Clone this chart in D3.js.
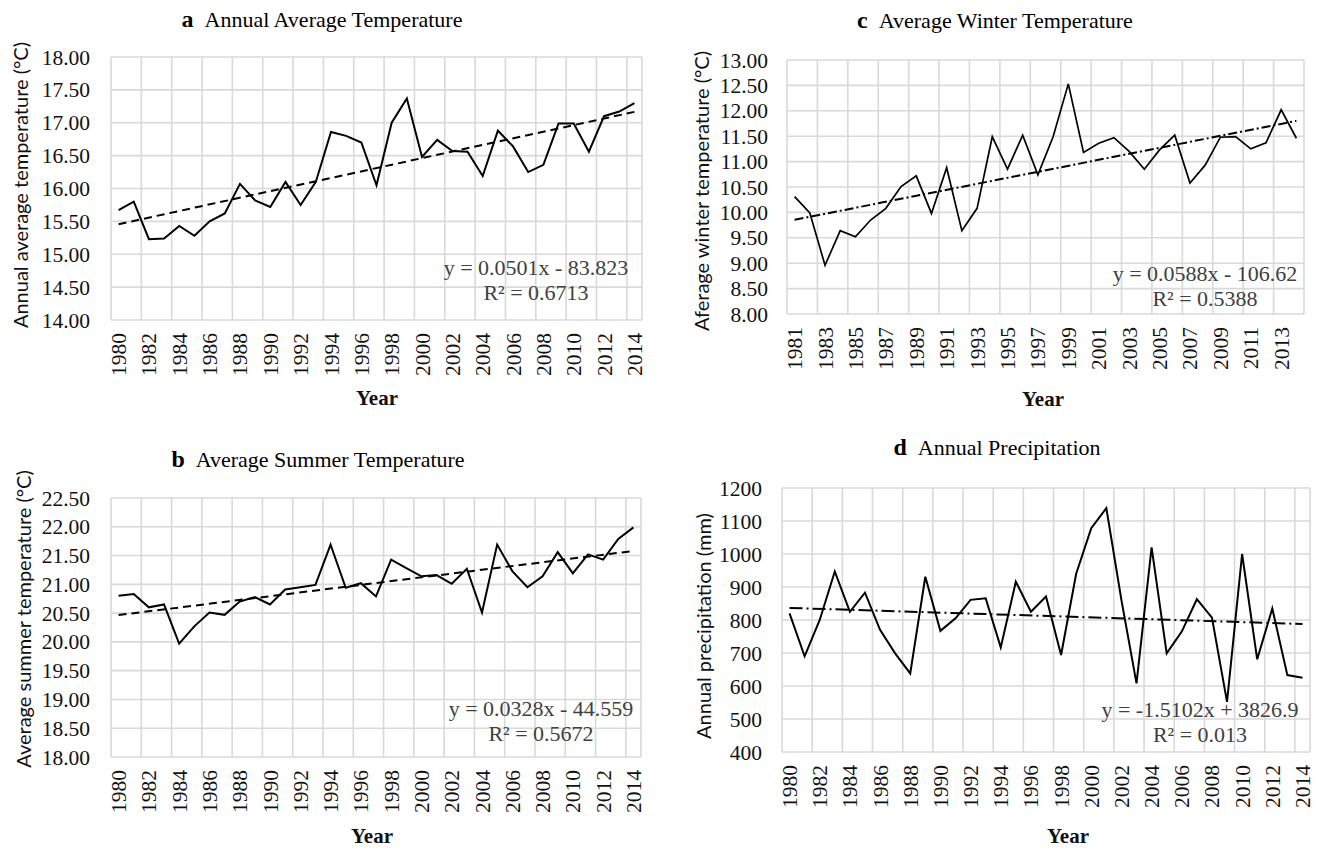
<!DOCTYPE html>
<html><head><meta charset="utf-8">
<script src="https://cdn.jsdelivr.net/npm/d3@7/dist/d3.min.js"></script>
<style>body{margin:0;background:#fff} svg{display:block}</style>
</head><body><svg id="chart" width="1320" height="850"></svg>
<script>
// ---------- DATA ----------
const years80 = [1980,1981,1982,1983,1984,1985,1986,1987,1988,1989,1990,1991,1992,1993,1994,1995,1996,1997,1998,1999,2000,2001,2002,2003,2004,2005,2006,2007,2008,2009,2010,2011,2012,2013,2014];
const years81 = [1981,1982,1983,1984,1985,1986,1987,1988,1989,1990,1991,1992,1993,1994,1995,1996,1997,1998,1999,2000,2001,2002,2003,2004,2005,2006,2007,2008,2009,2010,2011,2012,2013,2014];

const annualTemp = [15.67,15.80,15.23,15.24,15.43,15.28,15.50,15.62,16.07,15.82,15.72,16.10,15.75,16.10,16.86,16.80,16.70,16.05,17.00,17.37,16.48,16.74,16.57,16.56,16.19,16.88,16.64,16.25,16.36,16.99,16.99,16.56,17.10,17.17,17.30];
const summerTemp = [20.80,20.83,20.60,20.65,19.97,20.27,20.51,20.47,20.70,20.78,20.65,20.91,20.95,20.99,21.69,20.94,21.02,20.79,21.43,21.28,21.14,21.16,21.01,21.27,20.51,21.69,21.23,20.95,21.14,21.56,21.19,21.52,21.43,21.79,21.99];
const winterTemp = [10.31,9.99,8.96,9.64,9.52,9.85,10.08,10.51,10.72,9.98,10.88,9.64,10.08,11.49,10.85,11.52,10.74,11.49,12.53,11.18,11.36,11.47,11.20,10.85,11.23,11.52,10.58,10.93,11.48,11.49,11.25,11.37,12.02,11.46];
const precip = [820,690,800,947,825,883,770,699,638,931,767,805,861,866,717,916,825,871,694,940,1078,1139,860,608,1020,699,765,863,807,552,1000,681,835,633,625];

const ticksA = [14,14.5,15,15.5,16,16.5,17,17.5,18];
const ticksB = [18,18.5,19,19.5,20,20.5,21,21.5,22,22.5];
const ticksC = [8,8.5,9,9.5,10,10.5,11,11.5,12,12.5,13];
const ticksD = [400,500,600,700,800,900,1000,1100,1200];

const eqA = ["y = 0.0501x - 83.823", "R\u00B2 = 0.6713"];
const eqB = ["y = 0.0328x - 44.559", "R\u00B2 = 0.5672"];
const eqC = ["y = 0.0588x - 106.62", "R\u00B2 = 0.5388"];
const eqD = ["y = -1.5102x + 3826.9", "R\u00B2 = 0.013"];

// ---------- LAYOUT ----------
const SERIF = "'Liberation Serif','Times New Roman',serif";
const SANS = "Lato,'Liberation Sans',Arial,sans-serif";

const panels = [
  {letter:"a", title:"Annual Average Temperature", titleX:322, titleY:27, yTitle:"Annual average temperature (\u00B0C)",
   years:years80, values:annualTemp, ticks:ticksA, fmt:d3.format(".2f"),
   L:111,R:642,T:57,B:320, tickX:90, yTitleX:28, yTitleY:185, xTitleX:377, xTitleY:405,
   eq:eqA, eqX:536, eqY:275, dash:"8,5", lineW:2},
  {letter:"b", title:"Average Summer Temperature", titleX:318, titleY:467, yTitle:"Average summer temperature (\u00B0C)",
   years:years80, values:summerTemp, ticks:ticksB, fmt:d3.format(".2f"),
   L:111,R:641,T:498,B:757, tickX:90, yTitleX:31, yTitleY:619, xTitleX:372, xTitleY:843,
   eq:eqB, eqX:541, eqY:716, dash:"8,5", lineW:2},
  {letter:"c", title:"Average Winter Temperature", titleX:995, titleY:28, yTitle:"Aferage winter temperature (\u00B0C)",
   years:years81, values:winterTemp, ticks:ticksC, fmt:d3.format(".2f"),
   L:787,R:1304,T:60,B:314, tickX:768, yTitleX:709, yTitleY:191, xTitleX:1043, xTitleY:406,
   eq:eqC, eqX:1205, eqY:281, dash:"9,3,2,3", lineW:1.7},
  {letter:"d", title:"Annual Precipitation", titleX:997, titleY:455, yTitle:"Annual precipitation (mm)",
   years:years80, values:precip, ticks:ticksD, fmt:d3.format("d"),
   L:782,R:1310,T:488,B:752, tickX:762, yTitleX:711, yTitleY:626, xTitleX:1068, xTitleY:843,
   eq:eqD, eqX:1200, eqY:717, dash:"13,4,2,4", lineW:2}
];

const svg = d3.select("#chart");
const grid = "#d9d9d9";

function regression(xs, ys){
  const n = xs.length, mx = d3.mean(xs), my = d3.mean(ys);
  let sxy=0, sxx=0;
  for(let i=0;i<n;i++){ sxy += (xs[i]-mx)*(ys[i]-my); sxx += (xs[i]-mx)*(xs[i]-mx); }
  const b = sxy/sxx; return {b, a: my - b*mx};
}

panels.forEach(p => {
  const g = svg.append("g");
  const x = d3.scaleBand().domain(p.years).range([p.L, p.R]).padding(0);
  const y = d3.scaleLinear().domain([p.ticks[0], p.ticks[p.ticks.length-1]]).range([p.B, p.T]);
  const cx = d => x(d) + x.bandwidth()/2;

  g.append("g").selectAll("line").data(p.ticks).join("line")
    .attr("x1", p.L).attr("x2", p.R).attr("y1", d=>y(d)).attr("y2", d=>y(d))
    .attr("stroke", grid).attr("stroke-width", 1.6);
  const vb = p.years.filter((d,i)=> i%2===0).map(d=>x(d)).concat([p.R]);
  g.append("g").selectAll("line").data(vb).join("line")
    .attr("x1", d=>d).attr("x2", d=>d).attr("y1", p.T).attr("y2", p.B)
    .attr("stroke", grid).attr("stroke-width", 1.6);

  g.append("g").selectAll("text").data(p.ticks).join("text")
    .attr("x", p.tickX).attr("y", d=>y(d)).attr("dy","0.35em")
    .attr("text-anchor","end").attr("font-family", SERIF).attr("font-size", 21.5).attr("fill","#111")
    .text(p.fmt);

  const xl = p.years.filter((d,i)=> i%2===0);
  g.append("g").selectAll("text").data(xl).join("text")
    .attr("transform", d=>`translate(${cx(d)},${p.B+13}) rotate(-90)`)
    .attr("dy","0.35em").attr("text-anchor","end").attr("font-family", SERIF).attr("font-size", 21.5).attr("fill","#111")
    .text(d=>d);

  const line = d3.line().x((d,i)=>cx(p.years[i])).y(d=>y(d));
  g.append("path").datum(p.values).attr("d", line)
    .attr("fill","none").attr("stroke","#000").attr("stroke-width", p.lineW).attr("stroke-linejoin","miter");

  const idx = p.years.map((d,i)=>i+1);
  const r = regression(idx, p.values);
  g.append("line")
    .attr("x1", cx(p.years[0])).attr("y1", y(r.a + r.b*idx[0]))
    .attr("x2", cx(p.years[p.years.length-1])).attr("y2", y(r.a + r.b*idx[idx.length-1]))
    .attr("stroke","#000").attr("stroke-width",2).attr("stroke-dasharray", p.dash);

  g.append("text").attr("x", p.eqX).attr("y", p.eqY).attr("text-anchor","middle")
    .attr("font-family", SERIF).attr("font-size", 22).attr("fill","#404040").text(p.eq[0]);
  g.append("text").attr("x", p.eqX).attr("y", p.eqY+25).attr("text-anchor","middle")
    .attr("font-family", SERIF).attr("font-size", 22).attr("fill","#404040").text(p.eq[1]);

  const t = g.append("text").attr("x", p.titleX).attr("y", p.titleY).attr("text-anchor","middle")
    .attr("font-family", SERIF).attr("fill","#000");
  t.append("tspan").attr("font-weight","bold").attr("font-size", 24).text(p.letter);
  t.append("tspan").attr("font-size", 22).text("\u2002" + p.title);

  g.append("text").attr("transform", `translate(${p.yTitleX},${p.yTitleY}) rotate(-90)`)
    .attr("text-anchor","middle").attr("font-family", SANS).attr("font-size", 20).attr("fill","#111").text(p.yTitle);

  g.append("text").attr("x", p.xTitleX).attr("y", p.xTitleY).attr("text-anchor","middle")
    .attr("font-family", SERIF).attr("font-size", 21).attr("font-weight","bold").attr("fill","#111").text("Year");
});
</script></body></html>
